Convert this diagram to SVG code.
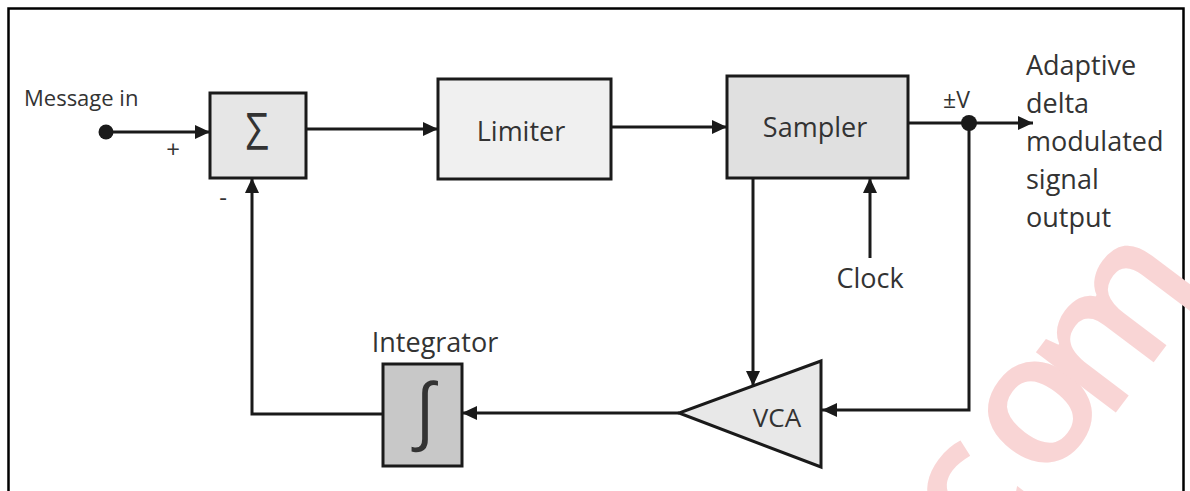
<svg xmlns="http://www.w3.org/2000/svg" width="1190" height="491" viewBox="0 0 1190 491">
  <defs>
    <marker id="arrow" markerUnits="userSpaceOnUse" markerWidth="16" markerHeight="14" refX="15" refY="7" orient="auto">
      <path d="M0,0 L15,7 L0,14 z" fill="#1a1a1a"/>
    </marker>
    <style>
      .box { stroke: #1a1a1a; stroke-width: 3; }
      .wire { fill: none; stroke: #1a1a1a; stroke-width: 3; }
      .lbl { font-family: "Open Sans", "Liberation Sans", sans-serif; fill: #333333; }
      .mid { text-anchor: middle; }
      .wm { font-family: "Open Sans", "Liberation Sans", sans-serif; font-weight: 600; font-size: 185px; fill: #f9d5d5; text-anchor: middle; }
    </style>
  </defs>

  <rect width="1190" height="491" fill="#ffffff"/>
  <!-- outer frame -->
  <path d="M8.5,500 V8.5 H1183.5 V500" fill="none" stroke="#000" stroke-width="2.5"/>

  <!-- watermark letters, each centred on its x-height midpoint -->
  <g id="watermark">
    <text class="wm" x="0" y="50" transform="translate(973,500) rotate(-53)">c</text>
    <text class="wm" x="0" y="50" transform="translate(1040,412) rotate(-53)">o</text>
    <text class="wm" x="0" y="50" transform="translate(1120,324) rotate(-53)">m</text>
  </g>

  <g id="connectors">
    <path class="wire" d="M106,132 H210" marker-end="url(#arrow)"/>
    <path class="wire" d="M306,129 H438" marker-end="url(#arrow)"/>
    <path class="wire" d="M611,127 H727" marker-end="url(#arrow)"/>
    <path class="wire" d="M908,123 H1033" marker-end="url(#arrow)"/>
    <path class="wire" d="M969,123 V410 H822" marker-end="url(#arrow)"/>
    <path class="wire" d="M870,258 V178" marker-end="url(#arrow)"/>
    <path class="wire" d="M753,178 V386" marker-end="url(#arrow)"/>
    <path class="wire" d="M679,413 H462" marker-end="url(#arrow)"/>
    <path class="wire" d="M383,414 H252 V178" marker-end="url(#arrow)"/>
    <circle cx="106" cy="132" r="7.5" fill="#1a1a1a"/>
    <circle cx="969" cy="123" r="8" fill="#1a1a1a"/>
  </g>

  <g id="input-label">
    <text class="lbl" x="24" y="106" font-size="22" fill="#4a4a4a">Message in</text>
    <text class="lbl mid" x="173" y="158" font-size="24">+</text>
    <text class="lbl mid" x="223" y="206" font-size="24">-</text>
  </g>

  <g id="summer">
    <rect class="box" x="210" y="93" width="96" height="85" fill="#e6e6e6"/>
    <text class="lbl mid" x="0" y="0" transform="translate(257,150) scale(0.8,1)" font-size="51" fill="#222">Σ</text>
  </g>

  <g id="limiter">
    <rect class="box" x="438" y="79" width="173" height="100" fill="#f0f0f0"/>
    <text class="lbl mid" x="521" y="141" font-size="27">Limiter</text>
  </g>

  <g id="sampler">
    <rect class="box" x="727" y="76" width="181" height="102" fill="#e0e0e0"/>
    <text class="lbl mid" x="815" y="137" font-size="27">Sampler</text>
  </g>

  <g id="clock">
    <text class="lbl mid" x="870" y="288" font-size="27">Clock</text>
  </g>

  <g id="output">
    <text class="lbl" x="943" y="108" font-size="23">±V</text>
    <text class="lbl" x="1026" y="75" font-size="27">Adaptive</text>
    <text class="lbl" x="1026" y="113" font-size="27">delta</text>
    <text class="lbl" x="1026" y="151" font-size="27">modulated</text>
    <text class="lbl" x="1026" y="189" font-size="27">signal</text>
    <text class="lbl" x="1026" y="227" font-size="27">output</text>
  </g>

  <g id="vca">
    <path class="box" d="M821,361 V467 L679,413 z" fill="#e8e8e8"/>
    <text class="lbl mid" x="777" y="427" font-size="26">VCA</text>
  </g>

  <g id="integrator">
    <rect class="box" x="383" y="364" width="79" height="102" fill="#c8c8c8"/>
    <text class="lbl mid" x="425" y="435" font-size="72" font-family="Liberation Serif, serif" fill="#222">∫</text>
    <text class="lbl mid" x="435" y="352" font-size="27">Integrator</text>
  </g>
</svg>
